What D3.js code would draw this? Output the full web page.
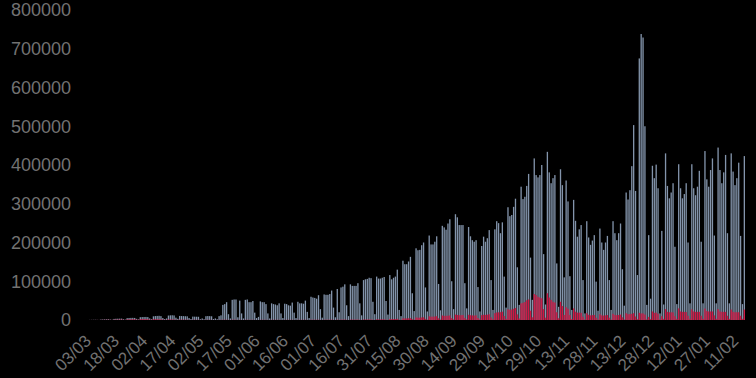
<!DOCTYPE html>
<html>
<head>
<meta charset="utf-8">
<script src="https://cdn.jsdelivr.net/npm/d3@7"></script>
<style>
  html, body { margin: 0; padding: 0; background: #000; }
  svg { display: block; }
</style>
</head>
<body>
<svg id="chart" width="756" height="378"></svg>
<script>
// one bar per day, 03/03/2020 -> 15/02/2021
const firstDay = new Date(2020, 2, 3)
const lastDay = new Date(2021, 1, 15)
const days = d3.timeDay.range(firstDay, d3.timeDay.offset(lastDay, 1))

// daily tests, thousands (rows = weeks Mon..Sun, first row starts on Tuesday)
const testsK = [
  0.3, 0.4, 0.5, 0.6, 0.4, 0.2,
  1.2, 1.4, 1.6, 1.8, 2.0, 1.2, 0.6,
  2.8, 3.2, 3.4, 3.5, 3.6, 2.0, 1.0,
  4.8, 5.2, 5.4, 5.5, 5.3, 3.0, 1.5,
  7.2, 7.6, 7.8, 7.9, 7.5, 4.0, 2.0,
  9.5, 10.2, 10.5, 10.8, 10.0, 5.0, 2.5,
  4.0, 11.5, 12.0, 12.2, 11.8, 6.0, 3.0,
  10.5, 10.2, 10.0, 9.8, 9.5, 5.0, 2.5,
  8.8, 8.6, 8.5, 8.3, 2.0, 4.0, 2.0,
  9.8, 10.2, 10.0, 9.6, 2.5, 4.0, 2.0,
  10, 12, 39, 41, 46, 15, 4,
  52, 53, 53, 7, 50, 17, 4,
  52, 53, 46, 46, 49, 19, 5,
  8, 48, 46, 46, 41, 17, 4,
  43, 41, 40, 38, 43, 17, 5,
  42, 41, 38, 37, 45, 19, 5,
  47, 43, 43, 42, 50, 21, 5,
  60, 58, 57, 55, 64, 28, 6,
  66, 65, 65, 67, 76, 32, 7,
  80, 20, 84, 86, 92, 38, 10,
  92, 88, 88, 88, 95, 43, 12,
  103, 105, 106, 109, 108, 47, 15,
  112, 107, 107, 109, 111, 49, 14,
  116, 105, 109, 112, 130, 26, 10,
  153, 144, 144, 151, 163, 69, 23,
  185, 180, 181, 193, 200, 84, 22,
  218, 195, 195, 202, 216, 93, 25,
  243, 239, 233, 249, 260, 100, 28,
  273, 265, 245, 245, 245, 95, 30,
  240, 216, 206, 202, 206, 85, 22,
  191, 215, 202, 211, 232, 103, 26,
  234, 255, 250, 224, 252, 112, 32,
  291, 268, 271, 292, 313, 136, 39,
  344, 312, 318, 346, 377, 161, 52,
  417, 374, 368, 374, 400, 170, 40,
  434, 381, 353, 366, 374, 146, 34,
  389, 348, 110, 360, 306, 113, 26,
  310, 256, 215, 234, 245, 103, 17,
  255, 213, 194, 205, 219, 99, 24,
  236, 200, 181, 200, 217, 103, 26,
  255, 224, 206, 224, 249, 131, 37,
  329, 311, 335, 397, 503, 333, 116,
  675, 738, 729, 500, 39, 219, 55,
  398, 366, 401, 340, 17, 230, 40,
  430, 346, 314, 329, 353, 189, 41,
  402, 340, 314, 325, 353, 200, 43,
  402, 340, 322, 344, 385, 202, 43,
  436, 363, 344, 387, 417, 218, 43,
  445, 387, 353, 381, 426, 224, 43,
  430, 383, 348, 366, 406, 217, 41,
  423
]

// daily positive results, thousands
const positivesK = [
  0.05, 0.1, 0.1, 0.15, 0.2, 0.1,
  0.3, 0.4, 0.5, 0.6, 0.7, 0.4, 0.2,
  0.8, 1.0, 1.1, 1.2, 1.2, 0.7, 0.3,
  1.5, 1.7, 1.8, 1.9, 1.8, 1.0, 0.5,
  2.2, 2.3, 2.3, 2.2, 2.0, 1.1, 0.6,
  2.0, 2.0, 1.9, 1.8, 1.7, 0.9, 0.5,
  0.6, 1.5, 1.4, 1.3, 1.2, 0.6, 0.3,
  1.0, 0.9, 0.8, 0.8, 0.7, 0.4, 0.2,
  0.6, 0.6, 0.5, 0.5, 0.2, 0.3, 0.1,
  0.5, 0.5, 0.5, 0.4, 0.1, 0.2, 0.1,
  0.4, 0.4, 0.6, 0.6, 0.6, 0.3, 0.1,
  0.6, 0.6, 0.6, 0.1, 0.5, 0.2, 0.1,
  0.5, 0.5, 0.4, 0.4, 0.4, 0.2, 0.1,
  0.1, 0.4, 0.4, 0.4, 0.4, 0.2, 0.1,
  0.4, 0.4, 0.4, 0.4, 0.4, 0.2, 0.1,
  0.4, 0.4, 0.4, 0.4, 0.4, 0.2, 0.1,
  0.5, 0.4, 0.4, 0.4, 0.5, 0.2, 0.1,
  0.6, 0.6, 0.6, 0.6, 0.6, 0.3, 0.1,
  0.7, 0.7, 0.7, 0.7, 0.8, 0.4, 0.1,
  0.9, 0.3, 0.9, 0.9, 1.0, 0.5, 0.1,
  1.0, 1.0, 1.0, 1.0, 1.1, 0.5, 0.2,
  1.3, 1.3, 1.3, 1.4, 1.4, 0.6, 0.2,
  1.7, 1.6, 1.6, 1.7, 1.8, 0.8, 0.3,
  2.4, 2.3, 2.4, 2.6, 3.0, 0.9, 0.4,
  4.2, 4.0, 4.1, 4.4, 4.8, 2.2, 0.8,
  6.5, 6.0, 6.1, 6.6, 7.0, 3.0, 0.9,
  9.5, 8.6, 8.6, 9.0, 9.7, 4.3, 1.3,
  11.5, 10.8, 10.6, 11.2, 11.8, 4.8, 1.5,
  14.0, 13.0, 12.4, 12.5, 12.8, 5.5, 1.8,
  13.5, 12.3, 11.8, 11.6, 11.9, 5.2, 1.5,
  12.5, 13.5, 13.2, 13.8, 14.8, 6.8, 1.9,
  17.5, 19.5, 19.8, 20.2, 21.5, 10.5, 2.8,
  27.5, 26.5, 27.0, 29.0, 31.0, 14.5, 4.0,
  43.0, 44.5, 46.5, 51.0, 53.0, 24.0, 7.0,
  67.0, 64.5, 60.0, 58.0, 56.0, 28.0, 6.0,
  69.0, 58.0, 52.0, 47.0, 45.0, 20.0, 4.5,
  47.0, 36.0, 13.0, 33.0, 29.0, 13.0, 2.5,
  30.0, 21.5, 19.0, 19.0, 18.5, 8.5, 1.5,
  17.5, 13.5, 12.0, 12.5, 13.0, 6.0, 1.2,
  15.0, 12.0, 11.5, 12.0, 12.8, 6.0, 1.2,
  16.0, 13.0, 12.5, 13.0, 14.0, 7.0, 1.5,
  17.5, 15.0, 15.2, 16.0, 17.5, 9.0, 2.0,
  18.5, 17.0, 17.0, 14.0, 1.8, 8.0, 2.5,
  22.0, 18.5, 19.0, 16.0, 1.5, 10.0, 3.0,
  28.0, 21.0, 20.0, 20.0, 19.5, 10.0, 3.0,
  30.0, 22.0, 21.0, 21.0, 20.5, 11.0, 3.0,
  27.5, 22.0, 21.0, 21.0, 21.0, 11.0, 3.0,
  29.5, 23.0, 22.0, 22.0, 22.0, 12.0, 3.0,
  28.0, 22.0, 21.0, 21.0, 21.0, 11.0, 3.0,
  27.0, 21.0, 20.0, 20.0, 20.0, 11.0, 3.0,
  27.0
]

const yTicks = [0, 100000, 200000, 300000, 400000, 500000, 600000, 700000, 800000]

const width = 756
const height = 378
const margin = { top: 10, right: 11, bottom: 58, left: 89 }

const fmt = d3.timeFormat('%d/%m')
const rows = days.map((d, i) => ({
  date: d,
  tests: testsK[i] * 1000,
  positives: positivesK[i] * 1000
}))

const svg = d3.select('#chart')

svg.append('rect')
  .attr('width', width)
  .attr('height', height)
  .attr('fill', '#000')

const x = d3.scaleBand()
  .domain(days)
  .range([margin.left, width - margin.right])
  .paddingInner(0.3)

const y = d3.scaleLinear()
  .domain([0, 800000])
  .range([height - margin.bottom, margin.top])

// tests
svg.append('g')
  .selectAll('rect')
  .data(rows)
  .join('rect')
  .attr('x', d => x(d.date))
  .attr('width', x.bandwidth())
  .attr('y', d => y(d.tests))
  .attr('height', d => y(0) - y(d.tests))
  .attr('fill', '#8394ab')

// positives on top
svg.append('g')
  .selectAll('rect')
  .data(rows)
  .join('rect')
  .attr('x', d => x(d.date))
  .attr('width', x.bandwidth())
  .attr('y', d => y(d.positives))
  .attr('height', d => y(0) - y(d.positives))
  .attr('fill', '#d01845')

// y axis: labels only
const yAxis = svg.append('g')
  .attr('transform', `translate(${margin.left - 18},0)`)
  .call(d3.axisLeft(y).tickValues(yTicks).tickSize(0).tickPadding(0).tickFormat(d3.format('d')))

yAxis.select('.domain').remove()
yAxis.selectAll('text')
  .attr('fill', '#727272')
  .style('font-family', 'Liberation Sans, Arial, sans-serif')
  .style('font-size', '18px')

// x axis: every 15th day, rotated
const xTicks = days.filter((d, i) => i % 15 === 0)

const xAxis = svg.append('g')
  .attr('transform', `translate(0,${height - margin.bottom})`)
  .call(d3.axisBottom(x).tickValues(xTicks).tickSize(0).tickFormat(fmt))

xAxis.select('.domain').remove()
xAxis.selectAll('text')
  .attr('x', 0)
  .attr('y', 0)
  .attr('dy', 0)
  .attr('transform', 'translate(2.5,22) rotate(-45)')
  .style('text-anchor', 'end')
  .attr('fill', '#727272')
  .style('font-family', 'Liberation Sans, Arial, sans-serif')
  .style('font-size', '17px')
</script>
</body>
</html>
